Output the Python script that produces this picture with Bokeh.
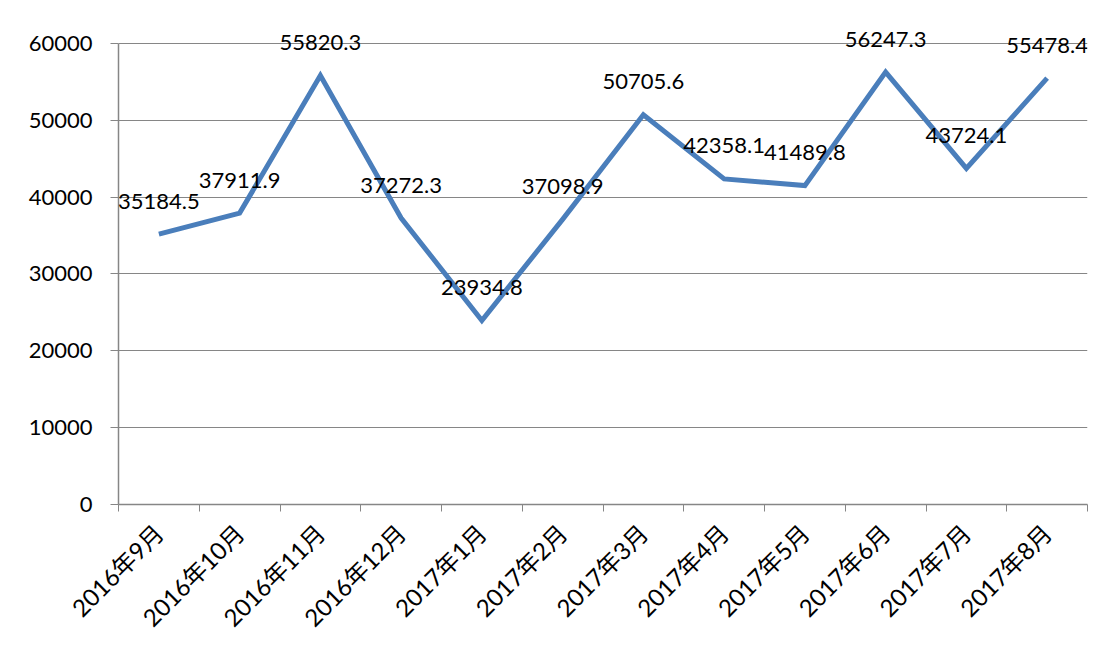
from bokeh.plotting import figure
from bokeh.models import ColumnDataSource, FixedTicker, LabelSet, Range1d
from bokeh.core.properties import value
from bokeh.embed import file_html
from bokeh.resources import INLINE
import math

categories = ["2016年9月", "2016年10月", "2016年11月", "2016年12月", "2017年1月", "2017年2月",
              "2017年3月", "2017年4月", "2017年5月", "2017年6月", "2017年7月", "2017年8月"]
values = [35184.5, 37911.9, 55820.3, 37272.3, 23934.8, 37098.9,
          50705.6, 42358.1, 41489.8, 56247.3, 43724.1, 55478.4]
y_ticks = [0, 10000, 20000, 30000, 40000, 50000, 60000]

FONT = "Lato, 'Noto Sans CJK SC', sans-serif"

xs = [i + 0.5 for i in range(len(categories))]
src = ColumnDataSource(dict(x=xs, y=values, label=[f"{v:.1f}" for v in values]))

p = figure(width=1095, height=645, output_backend="svg", toolbar_location=None,
           x_range=Range1d(0, len(categories)), y_range=Range1d(0, 63750),
           min_border_left=118, min_border_right=8, min_border_top=14, min_border_bottom=139)
p.outline_line_color = None
p.background_fill_color = "white"
p.border_fill_color = "white"

p.line("x", "y", source=src, line_color="#4A7EBB", line_width=5, line_join="miter")

labels = LabelSet(x="x", y="y", text="label", source=src, y_offset=33,
                  text_align="center", text_baseline="middle",
                  text_font=value(FONT), text_font_size="22px", text_color="black")
p.add_layout(labels)

# x axis: labels at centers, tick marks at category boundaries
p.xaxis.ticker = FixedTicker(ticks=xs, minor_ticks=list(range(len(categories) + 1)))
p.xaxis.major_label_overrides = {x: c for x, c in zip(xs, categories)}
p.xaxis.major_tick_line_color = None
p.xaxis.minor_tick_line_color = "#868686"
p.xaxis.minor_tick_out = 7
p.xaxis.minor_tick_in = 0
p.xaxis.axis_line_color = "#868686"
p.xaxis.axis_line_width = 1.5
p.xaxis.major_label_orientation = math.pi / 4
p.xaxis.major_label_text_font = FONT
p.xaxis.major_label_text_font_size = "24px"
p.xaxis.major_label_text_color = "black"
p.xaxis.major_label_standoff = 17

p.yaxis.ticker = FixedTicker(ticks=y_ticks)
p.yaxis.bounds = (0, 60000)
p.yaxis.minor_tick_line_color = None
p.yaxis.major_tick_line_color = "#868686"
p.yaxis.major_tick_out = 8
p.yaxis.major_tick_in = 0
p.yaxis.axis_line_color = "#868686"
p.yaxis.axis_line_width = 1.5
p.yaxis.major_label_text_font = FONT
p.yaxis.major_label_text_font_size = "22px"
p.yaxis.major_label_text_color = "black"
p.yaxis.major_label_standoff = 18

p.xgrid.grid_line_color = None
p.ygrid.grid_line_color = "#868686"
p.ygrid.grid_line_width = 1.2

open("out.html", "w").write(file_html(p, INLINE))
